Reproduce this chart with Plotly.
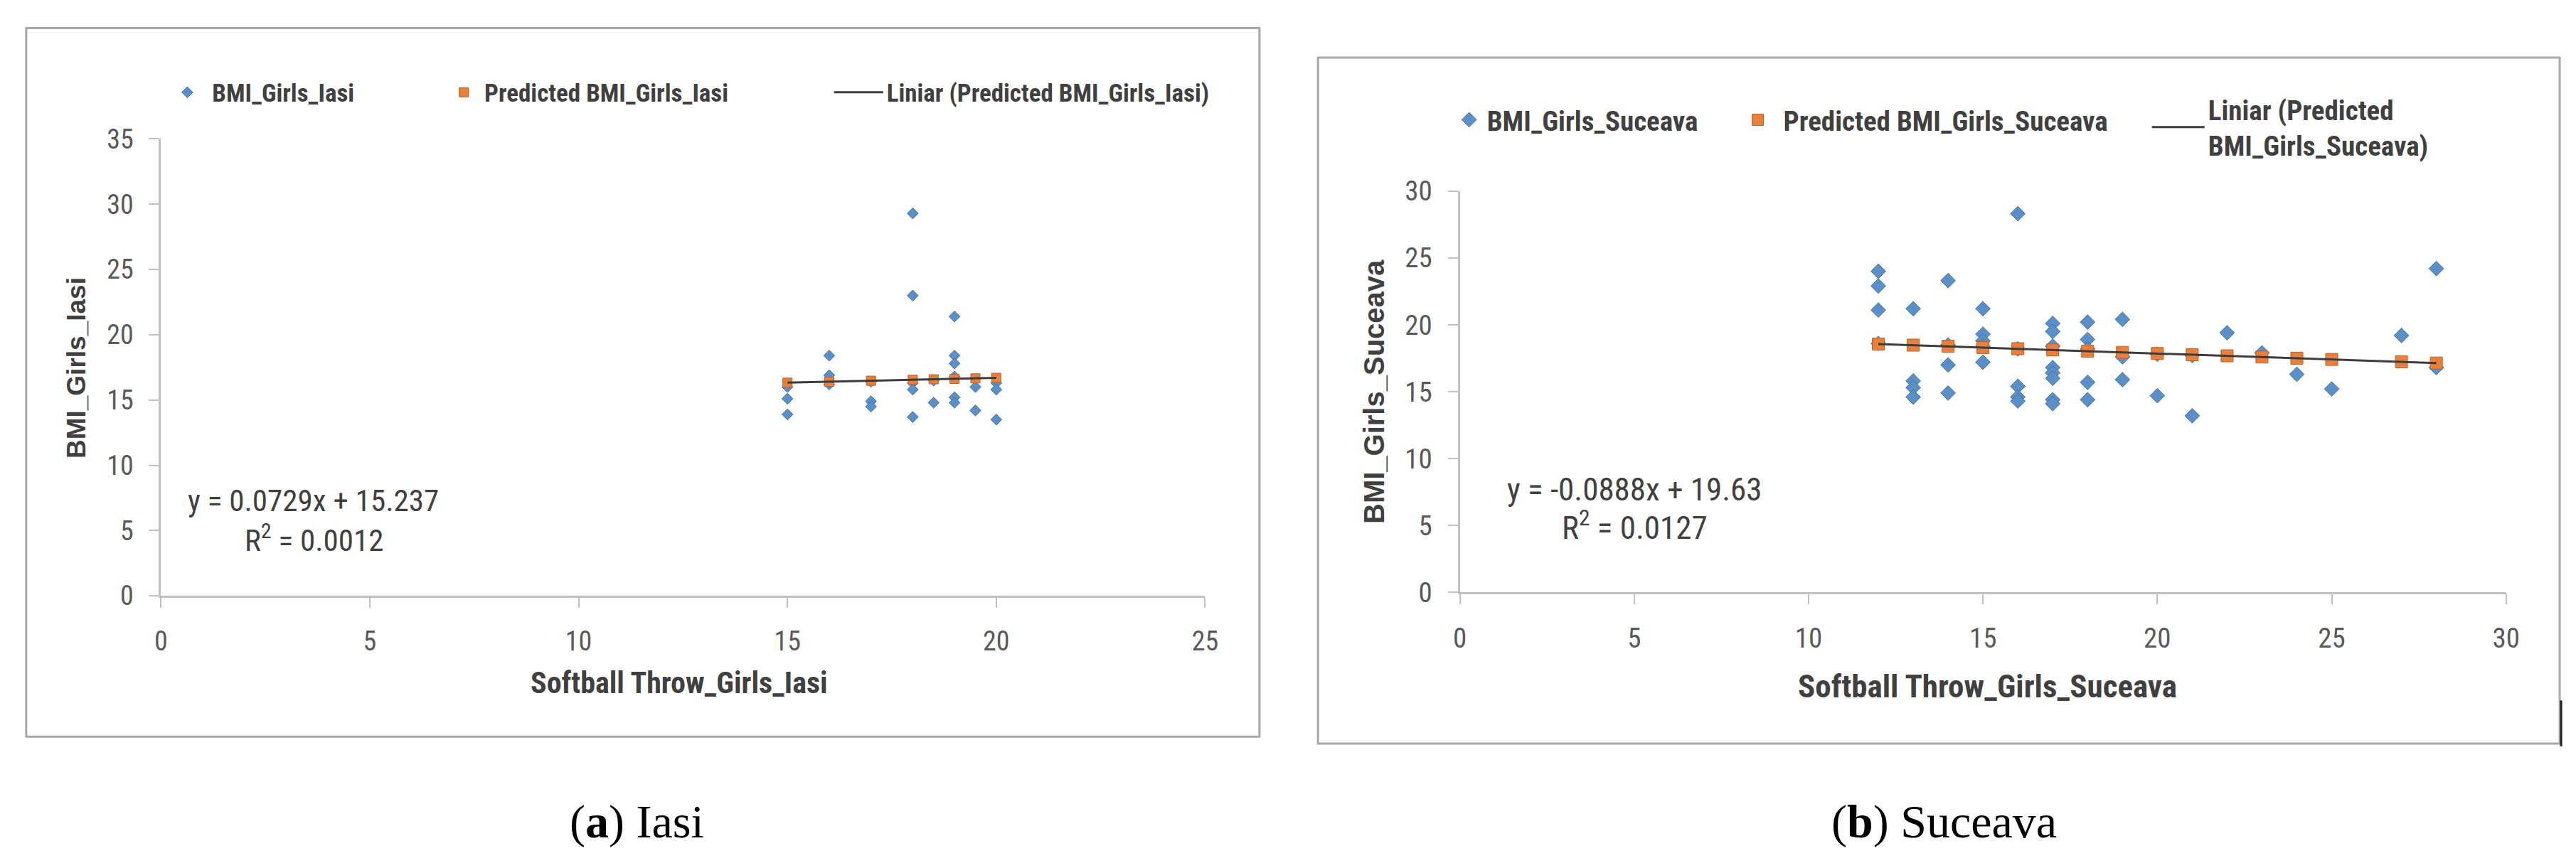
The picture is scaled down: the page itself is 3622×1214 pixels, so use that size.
import plotly.graph_objects as go

W, H = 3622, 1214
FONT = "Liberation Sans Narrow, Arial Narrow, Roboto Condensed, Liberation Sans, sans-serif"
FONT_WIDE = "Liberation Sans, Arial, sans-serif"
SERIF = "Liberation Serif, Times New Roman, serif"

# ---------------- data: Iasi ----------------
iasi_throw = [15, 15, 15, 16, 16, 16, 17, 17, 17, 18, 18, 18, 18, 18,
              18.5, 18.5, 19, 19, 19, 19, 19, 19, 19.5, 19.5, 20, 20, 20]
iasi_bmi = [16.0, 15.1, 13.9, 18.4, 16.9, 16.2, 16.4, 14.9, 14.5, 29.3, 23.0, 16.3, 15.8, 13.7,
            16.5, 14.8, 21.4, 18.4, 17.8, 16.8, 15.2, 14.8, 16.0, 14.2, 16.3, 15.8, 13.5]
iasi_pred_throw = [15, 16, 17, 18, 18.5, 19, 19.5, 20]
iasi_pred_bmi = [16.33, 16.40, 16.48, 16.55, 16.59, 16.62, 16.66, 16.70]

# ---------------- data: Suceava ----------------
suc_throw = [12, 12, 12, 12, 13, 13, 13, 13, 14, 14, 14, 14, 15, 15, 15, 15, 15,
             16, 16, 16, 16, 16, 17, 17, 17, 17, 17, 17, 17, 17,
             18, 18, 18, 18, 18, 19, 19, 19, 20, 20, 21, 21, 22, 23, 24, 25, 27, 28, 28]
suc_bmi = [24.0, 22.9, 21.1, 18.6, 21.2, 15.8, 15.3, 14.6, 23.3, 18.5, 17.0, 14.9,
           21.2, 19.3, 18.8, 18.4, 17.2,
           28.3, 18.2, 15.4, 14.6, 14.3, 20.1, 19.5, 18.4, 16.8, 16.4, 16.0, 14.4, 14.1,
           20.2, 18.9, 18.2, 15.7, 14.4, 20.4, 17.6, 15.9, 17.8, 14.7, 17.7, 13.2,
           19.4, 17.9, 16.3, 15.2, 19.2, 24.2, 16.8]
suc_pred_throw = [12, 13, 14, 15, 16, 17, 18, 19, 20, 21, 22, 23, 24, 25, 27, 28]
suc_pred_bmi = [18.56, 18.48, 18.39, 18.30, 18.21, 18.12, 18.03, 17.94,
                17.85, 17.76, 17.68, 17.59, 17.50, 17.41, 17.23, 17.14]

# ---------------- text ----------------
iasi_names = ["BMI_Girls_Iasi", "Predicted BMI_Girls_Iasi", "Liniar (Predicted BMI_Girls_Iasi)"]
suc_names = ["BMI_Girls_Suceava", "Predicted BMI_Girls_Suceava", "Liniar (Predicted<br>BMI_Girls_Suceava)"]
iasi_eq = ["y = 0.0729x + 15.237", "R<sup>2</sup> = 0.0012"]
suc_eq = ["y = -0.0888x + 19.63", "R<sup>2</sup> = 0.0127"]
iasi_titles = ["Softball Throw_Girls_Iasi", "BMI_Girls_Iasi"]
suc_titles = ["Softball Throw_Girls_Suceava", "BMI_Girls_Suceava"]
captions = ["(<b>a</b>) Iasi", "(<b>b</b>) Suceava"]

BLUE = "#5b8fc7"
BLUE_EDGE = "#4574a6"
ORANGE = "#e8803c"
ORANGE_EDGE = "#b8622a"
TREND = "#3c3c3c"


def fx(p):
    return p / W


def fy(p):
    return 1 - p / H


fig = go.Figure()

# Iasi traces
fig.add_trace(go.Scatter(x=iasi_throw, y=iasi_bmi, mode="markers", name=iasi_names[0],
                         xaxis="x", yaxis="y", legend="legend",
                         marker=dict(symbol="diamond", size=12, color=BLUE,
                                     line=dict(color=BLUE_EDGE, width=1))))
fig.add_trace(go.Scatter(x=iasi_pred_throw, y=iasi_pred_bmi, mode="markers", name=iasi_names[1],
                         xaxis="x", yaxis="y", legend="legend2",
                         marker=dict(symbol="square", size=13, color=ORANGE,
                                     line=dict(color=ORANGE_EDGE, width=1))))
fig.add_trace(go.Scatter(x=[iasi_pred_throw[0], iasi_pred_throw[-1]],
                         y=[iasi_pred_bmi[0], iasi_pred_bmi[-1]], mode="lines",
                         name=iasi_names[2], xaxis="x", yaxis="y", legend="legend3",
                         line=dict(color=TREND, width=3)))

# Suceava traces
fig.add_trace(go.Scatter(x=suc_throw, y=suc_bmi, mode="markers", name=suc_names[0],
                         xaxis="x2", yaxis="y2", legend="legend4",
                         marker=dict(symbol="diamond", size=16, color=BLUE,
                                     line=dict(color=BLUE_EDGE, width=1))))
fig.add_trace(go.Scatter(x=suc_pred_throw, y=suc_pred_bmi, mode="markers", name=suc_names[1],
                         xaxis="x2", yaxis="y2", legend="legend5",
                         marker=dict(symbol="square", size=17, color=ORANGE,
                                     line=dict(color=ORANGE_EDGE, width=1))))
fig.add_trace(go.Scatter(x=[suc_pred_throw[0], suc_pred_throw[-1]],
                         y=[suc_pred_bmi[0], suc_pred_bmi[-1]], mode="lines",
                         name=suc_names[2], xaxis="x2", yaxis="y2", legend="legend6",
                         line=dict(color=TREND, width=3)))


def axis(domain, rng, anchor, size, standoff):
    return dict(domain=domain, range=rng, dtick=5, tick0=0, anchor=anchor,
                showline=True, linecolor="#c0c0c0", linewidth=3,
                ticks="outside", ticklen=14, tickwidth=2, tickcolor="#c0c0c0",
                showgrid=False, zeroline=False, fixedrange=True,
                ticklabelstandoff=standoff,
                tickfont=dict(family=FONT, size=size, color="#595959"))


def leg(x_px, y_px, size, w):
    return dict(x=fx(x_px), y=fy(y_px), xanchor="left", yanchor="middle",
                orientation="h", bgcolor="rgba(0,0,0,0)", borderwidth=0,
                itemwidth=w, itemclick=False, itemdoubleclick=False,
                font=dict(family=FONT, size=size, color="#404040", weight="bold"))


def ann(x_px, y_px, text, size, family=FONT, bold=False, angle=0, color="#404040"):
    return dict(x=fx(x_px), y=fy(y_px), xref="paper", yref="paper", text=text,
                showarrow=False, xanchor="center", yanchor="middle", textangle=angle,
                font=dict(family=family, size=size, color=color,
                          weight="bold" if bold else "normal"))


annotations = [
    ann(426, 701, iasi_eq[0], 43),
    ann(427, 756, iasi_eq[1], 43),
    ann(2299, 684, suc_eq[0], 45),
    ann(2299, 737, suc_eq[1], 45),
    ann(945, 967, iasi_titles[0], 42, bold=True),
    ann(2799, 972, suc_titles[0], 45, bold=True),
    ann(91, 507, iasi_titles[1], 37, family=FONT_WIDE, bold=True, angle=-90),
    ann(1930, 542, suc_titles[1], 40, family=FONT_WIDE, bold=True, angle=-90),
    ann(885, 1170, captions[0], 66, family=SERIF, color="#000000"),
    ann(2737, 1170, captions[1], 66, family=SERIF, color="#000000"),
]

shapes = [
    dict(type="rect", xref="paper", yref="paper", x0=fx(19), x1=fx(1767), y0=fy(1046), y1=fy(10),
         line=dict(color="#a8a8a8", width=3), layer="below"),
    dict(type="rect", xref="paper", yref="paper", x0=fx(1850), x1=fx(3610), y0=fy(1056), y1=fy(53),
         line=dict(color="#a8a8a8", width=3), layer="below"),
    dict(type="line", xref="paper", yref="paper", x0=fx(3612), x1=fx(3612), y0=fy(1060), y1=fy(993),
         line=dict(color="#222222", width=3)),
]

fig.update_layout(
    width=W, height=H, margin=dict(l=0, r=0, t=0, b=0),
    paper_bgcolor="white", plot_bgcolor="white",
    showlegend=True,
    xaxis=axis([fx(210), fx(1690)], [0, 25], "y", 38, 14),
    yaxis=axis([fy(840), fy(172)], [0, 35], "x", 38, 14),
    xaxis2=axis([fx(2051), fx(3534)], [0, 30], "y2", 39, 14),
    yaxis2=axis([fy(835), fy(248)], [0, 30], "x2", 39, 14),
    legend=leg(212, 104, 35, 60),
    legend2=leg(610, 104, 35, 48),
    legend3=leg(1159, 104, 35, 69),
    legend4=leg(2039, 144, 39, 40),
    legend5=leg(2437, 144, 39, 62),
    legend6=leg(3027, 155, 39, 74),
    annotations=annotations,
    shapes=shapes,
)

fig.write_html("out.html")
